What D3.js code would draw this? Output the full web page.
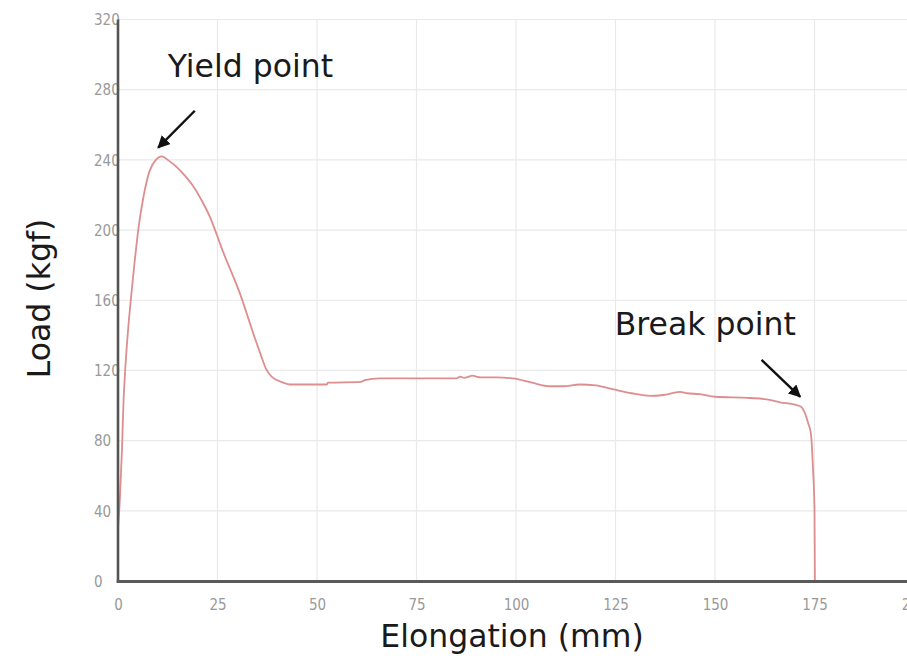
<!DOCTYPE html>
<html>
<head>
<meta charset="utf-8">
<script src="https://cdn.jsdelivr.net/npm/d3@7"></script>
<style>
  html, body { margin: 0; padding: 0; background: #fff; }
  svg { display: block; }
</style>
</head>
<body>
<svg id="chart" width="907" height="662"></svg>
<script>
// ---- data ----
const elongation = [0, 0.5, 1.0, 1.4, 1.8, 2.6, 3.3, 4.0, 5.2, 6.4, 8.0, 9.5, 11.0, 12.5, 14.7, 16.8, 18.9, 21.0, 23.1, 24.8, 26.5, 28.6, 30.7, 32.4, 34.0, 35.7, 37.4, 38.6, 39.9, 41.5, 43.2, 46.0, 52.5, 52.7, 61.0, 62.0, 65.8, 75.0, 85.0, 86.0, 87.0, 88.0, 89.0, 90.0, 91.0, 95.0, 99.2, 104.0, 108.5, 112.0, 116.0, 120.0, 124.9, 129.0, 133.7, 137.0, 141.2, 143.0, 146.2, 150.0, 158.8, 163.0, 166.3, 170.1, 171.5, 172.6, 173.4, 174.1, 174.6, 175.0, 175.1];
const load       = [30, 48, 75, 103, 120, 145, 162, 178, 202, 219, 234, 240, 242, 240, 236, 231, 225, 217, 207.5, 197.5, 187, 175.5, 163.5, 152, 141, 130, 120, 116.5, 114.5, 113, 112, 112, 112, 113, 113.5, 114.5, 115.5, 115.5, 115.5, 116.5, 115.8, 116.3, 117, 116.5, 116, 116, 115.5, 113, 111, 111, 112, 111.5, 109, 107, 105.5, 106, 107.8, 107, 106.5, 105, 104.3, 103.5, 101.8, 100.5, 99.5, 95.7, 90, 84, 65, 40, 0];

const xTicks = [0, 25, 50, 75, 100, 125, 150, 175, 200];
const yTicks = [0, 40, 80, 120, 160, 200, 240, 280, 320];

const xLabel = "Elongation (mm)";
const yLabel = "Load (kgf)";

// annotations: label, text anchor point (data), arrow tail, arrow tip (data)
const annotationLabels = ["Yield point", "Break point"];
const annotationText   = [[12.5, 287], [124.8, 140]];
const arrowTails       = [[19.3, 268], [161.7, 126]];
const arrowTips        = [[10.1, 247], [171.4, 105]];

// ---- drawing ----
const svg = d3.select("#chart");
const x = d3.scaleLinear().domain([0, 200]).range([118, 914]);
const y = d3.scaleLinear().domain([0, 320]).range([581, 19.5]);

svg.append("defs").append("marker")
  .attr("id", "arrowhead")
  .attr("viewBox", "0 0 10 10")
  .attr("refX", 9).attr("refY", 5)
  .attr("markerWidth", 5.2).attr("markerHeight", 5.2)
  .attr("markerUnits", "strokeWidth")
  .attr("orient", "auto")
  .append("path").attr("d", "M0,0 L10,5 L0,10 Z").attr("fill", "#111");

// grid
const grid = svg.append("g");
grid.selectAll("line.v").data(xTicks.filter(d => d > 0)).enter().append("line")
  .attr("x1", d => x(d)).attr("x2", d => x(d))
  .attr("y1", y(320)).attr("y2", y(0))
  .attr("stroke", "#e9e9e9").attr("stroke-width", 1.2);
grid.selectAll("line.h").data(yTicks.filter(d => d > 0)).enter().append("line")
  .attr("x1", x(0)).attr("x2", 907)
  .attr("y1", d => y(d)).attr("y2", d => y(d))
  .attr("stroke", "#e9e9e9").attr("stroke-width", 1.2);

// curve
const pts = elongation.map((e, i) => [e, load[i]]);
svg.append("path")
  .datum(pts)
  .attr("fill", "none")
  .attr("stroke", "#de8e8e")
  .attr("stroke-width", 1.8)
  .attr("stroke-linejoin", "round")
  .attr("d", d3.line().x(d => x(d[0])).y(d => y(d[1])).curve(d3.curveMonotoneX));

// axes
const tickFont = "'DejaVu Sans Condensed', 'DejaVu Sans', sans-serif";
const xAxis = d3.axisBottom(x).tickValues(xTicks).tickSize(0).tickPadding(0);
const gx = svg.append("g").attr("transform", `translate(0,${y(0)})`).call(xAxis);
gx.select(".domain").remove();
gx.selectAll("text")
  .attr("y", 29).attr("dy", null)
  .attr("fill", "#999")
  .style("font-family", tickFont)
  .style("font-stretch", "condensed")
  .style("font-size", "15px");

const yAxis = d3.axisLeft(y).tickValues(yTicks).tickSize(0).tickPadding(0);
const gy = svg.append("g").attr("transform", `translate(${x(0)},0)`).call(yAxis);
gy.select(".domain").remove();
gy.selectAll("text")
  .attr("x", -24).attr("dy", "0.35em")
  .attr("text-anchor", "start")
  .attr("fill", "#999")
  .style("font-family", tickFont)
  .style("font-stretch", "condensed")
  .style("font-size", "15px");

// axis lines
svg.append("line")
  .attr("x1", x(0)).attr("x2", x(0)).attr("y1", y(320)).attr("y2", y(0) + 1.5)
  .attr("stroke", "#555").attr("stroke-width", 2.6);
svg.append("line")
  .attr("x1", x(0) - 1.3).attr("x2", 907).attr("y1", y(0) + 0.5).attr("y2", y(0) + 0.5)
  .attr("stroke", "#5a5a5a").attr("stroke-width", 3);

// axis titles
const titleFont = "'DejaVu Sans', Verdana, sans-serif";
svg.append("text")
  .attr("x", 512).attr("y", 647)
  .attr("text-anchor", "middle")
  .attr("fill", "#1a1a1a")
  .style("font-family", titleFont).style("font-size", "31.5px")
  .text(xLabel);
svg.append("text")
  .attr("transform", "translate(50,298.5) rotate(-90)")
  .attr("text-anchor", "middle")
  .attr("fill", "#1a1a1a")
  .style("font-family", titleFont).style("font-size", "31.5px")
  .text(yLabel);

// annotations
annotationLabels.forEach((lbl, i) => {
  svg.append("text")
    .attr("x", x(annotationText[i][0])).attr("y", y(annotationText[i][1]))
    .attr("fill", "#1a1a1a")
    .style("font-family", titleFont).style("font-size", "31.5px")
    .text(lbl);
  svg.append("line")
    .attr("x1", x(arrowTails[i][0])).attr("y1", y(arrowTails[i][1]))
    .attr("x2", x(arrowTips[i][0])).attr("y2", y(arrowTips[i][1]))
    .attr("stroke", "#111").attr("stroke-width", 2.4)
    .attr("marker-end", "url(#arrowhead)");
});
</script>
</body>
</html>
